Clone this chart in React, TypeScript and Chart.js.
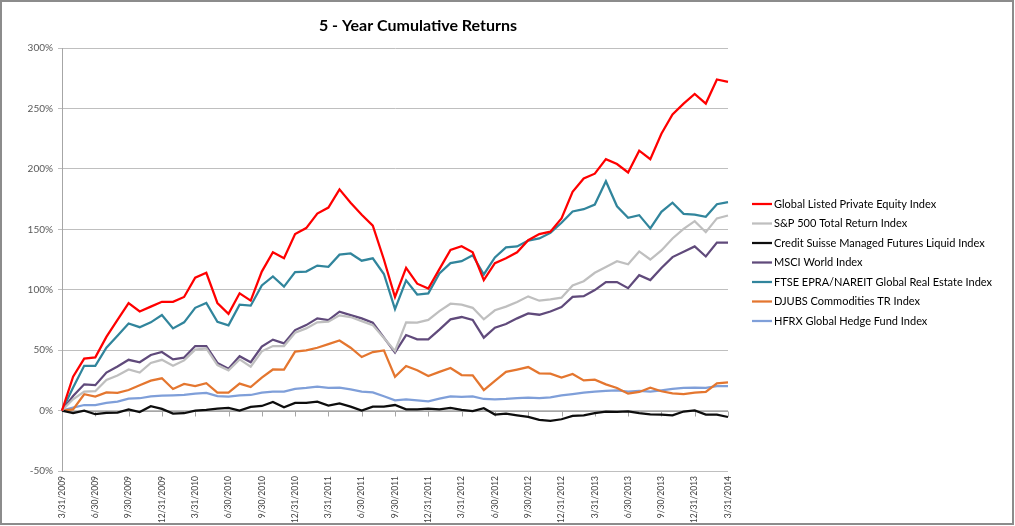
import React, { useEffect, useRef } from "react";
import { Chart, registerables } from "chart.js";

Chart.register(...registerables);

const FONT = "Lato, 'Open Sans', 'DejaVu Sans', sans-serif";

const TITLE = "5 - Year Cumulative Returns";

const dateLabels = [
  "3/31/2009", "4/30/2009", "5/31/2009", "6/30/2009", "7/31/2009", "8/31/2009", "9/30/2009", "10/31/2009", "11/30/2009", "12/31/2009",
  "1/31/2010", "2/28/2010", "3/31/2010", "4/30/2010", "5/31/2010", "6/30/2010", "7/31/2010", "8/31/2010", "9/30/2010", "10/31/2010", "11/30/2010", "12/31/2010",
  "1/31/2011", "2/28/2011", "3/31/2011", "4/30/2011", "5/31/2011", "6/30/2011", "7/31/2011", "8/31/2011", "9/30/2011", "10/31/2011", "11/30/2011", "12/31/2011",
  "1/31/2012", "2/29/2012", "3/31/2012", "4/30/2012", "5/31/2012", "6/30/2012", "7/31/2012", "8/31/2012", "9/30/2012", "10/31/2012", "11/30/2012", "12/31/2012",
  "1/31/2013", "2/28/2013", "3/31/2013", "4/30/2013", "5/31/2013", "6/30/2013", "7/31/2013", "8/31/2013", "9/30/2013", "10/31/2013", "11/30/2013", "12/31/2013",
  "1/31/2014", "2/28/2014", "3/31/2014",
];

const yTicks = [-50, 0, 50, 100, 150, 200, 250, 300];

const seriesNames = [
  "Global Listed Private Equity Index",
  "S&P 500 Total Return Index",
  "Credit Suisse Managed Futures Liquid Index",
  "MSCI World Index",
  "FTSE EPRA/NAREIT Global Real Estate Index",
  "DJUBS Commodities TR Index",
  "HFRX Global Hedge Fund Index",
];

const privateEquity = [
  0, 28, 43, 44, 61, 75, 89, 82, 86, 90,
  90, 94, 110, 114, 89, 80, 97, 91, 115, 131,
  126, 146, 151, 163, 168, 183, 172, 162, 153, 125,
  94, 118, 105, 101, 117, 133, 136, 131, 108, 122,
  126, 131, 141, 146, 148, 159, 181, 192, 196, 208,
  204, 197, 215, 208, 229, 245, 254, 262, 254, 274,
  272,
];

const sp500 = [
  0, 9.3, 15.7, 16, 25.3, 29, 34, 31.4, 39.4, 42,
  37, 41.5, 50.4, 51.5, 37.7, 33.3, 42.4, 36.3, 49, 53.4,
  53.4, 64.4, 68, 73, 73.5, 78.8, 77.4, 74, 70.7, 60,
  49.3, 73, 72.7, 75, 82.3, 88.4, 87.6, 85, 75.5, 83,
  86, 89.8, 94.5, 90.9, 92, 93.4, 103.5, 107, 114, 118.7,
  123.6, 121, 131.7, 125, 132.5, 142.4, 150.4, 156.7, 147.6, 159,
  161.4,
];

const managedFutures = [
  0, -2, 0, -3, -2, -1.7, 1, -1.2, 3.6, 1.4,
  -2.5, -2.2, 0, 0.5, 1.6, 2.2, 0, 3, 3.8, 7.1,
  2.7, 6.3, 6.3, 7.4, 4.1, 6, 3.3, 0, 3.3, 3.3,
  4.6, 1, 1, 1.6, 1, 2.2, 0.5, -0.5, 1.9, -3.3,
  -2.5, -3.9, -5.3, -7.7, -8.6, -7.2, -4.4, -3.9, -2.2, -0.8,
  -1.1, -0.6, -2.2, -3.1, -3.3, -3.9, -0.8, 0.2, -3.3, -3.3,
  -5.3,
];

const msciWorld = [
  0, 12, 21.7, 21, 31.4, 36.4, 42, 40, 46, 48.5,
  42.4, 43.8, 53.4, 53.4, 39.4, 34.7, 45, 40, 53, 58.7,
  55.6, 66.6, 70.7, 76.3, 74.9, 81.8, 79, 76.3, 72.7, 60.3,
  48, 62.5, 59, 59, 67, 75.5, 77.4, 75, 60.3, 68.6,
  71.6, 76.3, 80.4, 79.3, 82, 85.6, 94, 94.7, 99.7, 106.3,
  106.3, 101.3, 112, 108, 118, 127, 131.4, 135.8, 127.5, 139,
  139,
];

const realEstate = [
  0, 19, 37, 37, 52, 62, 72, 69, 73, 79,
  68, 73, 85, 89, 73.5, 70.5, 87.6, 86.8, 103.5, 111,
  102.5, 114.5, 115, 120, 119, 129, 130, 124, 126, 113,
  84, 107.7, 96, 97, 113.5, 122, 123.6, 128.6, 112.6, 126.7,
  135, 135.8, 140.7, 142.4, 147, 155.4, 164.7, 166.6, 170.5, 189.8,
  169, 159.5, 161.7, 150.7, 164.5, 172, 162.8, 162.2, 160.3, 170.7,
  172.4,
];

const commodities = [
  0, 1, 13.5, 11.6, 15, 14.6, 17, 21, 24.8, 26.7,
  17.9, 22, 20.3, 22.6, 14.9, 14.9, 22.3, 19.5, 27.3, 34,
  33.9, 48.8, 49.8, 52, 55, 58, 52, 44.3, 48.4, 49.8,
  28, 36.9, 33.3, 28.6, 32, 35.2, 29.4, 29.2, 17, 24.5,
  32, 33.9, 36, 30.8, 30.6, 27.3, 30.3, 25, 25.6, 21.7,
  18.7, 14, 15.4, 19, 16, 14.3, 13.7, 14.9, 15.4, 22.6,
  23.4,
];

const hedgeFund = [
  0, 2.5, 4.6, 4.6, 6.3, 7.4, 9.9, 10.2, 11.8, 12.4,
  12.6, 12.9, 14, 14.6, 12, 11.6, 12.6, 12.9, 14.9, 15.7,
  15.7, 17.9, 18.7, 19.8, 18.7, 19, 17.6, 15.7, 15.1, 11.8,
  8.5, 9.3, 8.5, 7.7, 9.9, 11.8, 11.3, 11.8, 9.6, 9.3,
  9.6, 10.2, 10.7, 10.2, 11, 12.6, 13.7, 14.9, 15.7, 16.2,
  16.8, 15.7, 16.2, 15.7, 16.8, 17.9, 18.7, 19, 18.7, 20.3,
  20.3,
];

const seriesValues = [privateEquity, sp500, managedFutures, msciWorld, realEstate, commodities, hedgeFund];
const seriesColors = ["#FF0000", "#BFBFBF", "#0D0D0D", "#604A7B", "#31859C", "#E4762F", "#7F9FD9"];

export default function App() {
  const ref = useRef<HTMLCanvasElement>(null);

  useEffect(() => {
    const canvas = ref.current;
    if (!canvas) return;

    const titlePlugin = {
      id: "customTitle",
      afterDraw(chart: any) {
        const ctx = chart.ctx;
        ctx.save();
        ctx.font = `bold 16px ${FONT}`;
        ctx.fillStyle = "#000000";
        ctx.textAlign = "center";
        ctx.textBaseline = "middle";
        ctx.fillText(TITLE, 418, 26);
        ctx.restore();
      },
    };

    const legendPlugin = {
      id: "customLegend",
      afterDraw(chart: any) {
        const ctx = chart.ctx;
        ctx.save();
        ctx.font = `11px ${FONT}`;
        ctx.textBaseline = "middle";
        ctx.textAlign = "left";
        chart.data.datasets.forEach((ds: any, i: number) => {
          const y = 204 + i * 19.5;
          ctx.strokeStyle = ds.borderColor;
          ctx.lineWidth = 2.25;
          ctx.beginPath();
          ctx.moveTo(752, y);
          ctx.lineTo(772, y);
          ctx.stroke();
          ctx.fillStyle = "#000000";
          ctx.fillText(ds.label, 774, y);
        });
        ctx.restore();
      },
    };

    const zeroAxisPlugin = {
      id: "zeroAxis",
      beforeDatasetsDraw(chart: any) {
        const { ctx, scales } = chart;
        const x = scales.x;
        const y = scales.y;
        const y0 = Math.round(y.getPixelForValue(0)) + 0.5;
        ctx.save();
        ctx.strokeStyle = "#A6A6A6";
        ctx.lineWidth = 1;
        ctx.beginPath();
        ctx.moveTo(x.left, y0);
        ctx.lineTo(x.right, y0);
        for (let i = 0; i < dateLabels.length; i += 3) {
          const px = Math.round(x.getPixelForValue(i)) + 0.5;
          ctx.moveTo(px, y0);
          ctx.lineTo(px, y0 + 5);
        }
        ctx.stroke();
        ctx.restore();
      },
    };

    const chart = new Chart(canvas, {
      type: "line",
      data: {
        labels: dateLabels,
        datasets: seriesNames.map((name, i) => ({
          label: name,
          data: seriesValues[i],
          borderColor: seriesColors[i],
          backgroundColor: seriesColors[i],
          borderWidth: 2.25,
          pointRadius: 0,
          pointHoverRadius: 0,
          tension: 0,
          fill: false,
        })),
      },
      options: {
        responsive: false,
        animation: false,
        layout: { padding: { top: 48, right: 287, bottom: 0, left: 0 } },
        plugins: {
          legend: { display: false },
          title: { display: false },
          tooltip: { enabled: false },
        },
        scales: {
          x: {
            type: "category",
            offset: false,
            grid: { display: false, drawTicks: false },
            border: { display: false },
            ticks: {
              autoSkip: false,
              maxRotation: 90,
              minRotation: 90,
              padding: 5,
              color: "#404040",
              font: { family: FONT, size: 8.5 },
              callback: function (this: any, val: any, index: number) {
                return index % 3 === 0 ? dateLabels[index] : "";
              },
            },
            afterFit: (s: any) => {
              s.height = 55;
            },
          },
          y: {
            min: yTicks[0],
            max: yTicks[yTicks.length - 1],
            afterBuildTicks: (s: any) => {
              s.ticks = yTicks.map((v) => ({ value: v }));
            },
            ticks: {
              padding: 5,
              color: "#595959",
              font: { family: FONT, size: 10 },
              callback: (v: any) => `${v}%`,
            },
            grid: { color: "#BFBFBF", lineWidth: 1, tickLength: 4 },
            border: { display: true, color: "#A6A6A6" },
            afterFit: (s: any) => {
              s.width = 62;
            },
          },
        },
      },
      plugins: [zeroAxisPlugin, titlePlugin, legendPlugin],
    });

    return () => {
      chart.destroy();
    };
  }, []);

  return (
    <div style={{ position: "absolute", left: 0, top: 0, width: 1015, height: 526, background: "#ffffff" }}>
      <canvas ref={ref} width={1015} height={526} style={{ display: "block" }} />
      <div
        style={{
          position: "absolute",
          left: 0,
          top: 0,
          width: 1014,
          height: 525,
          boxSizing: "border-box",
          border: "2px solid #8C8C8C",
          pointerEvents: "none",
        }}
      />
    </div>
  );
}
